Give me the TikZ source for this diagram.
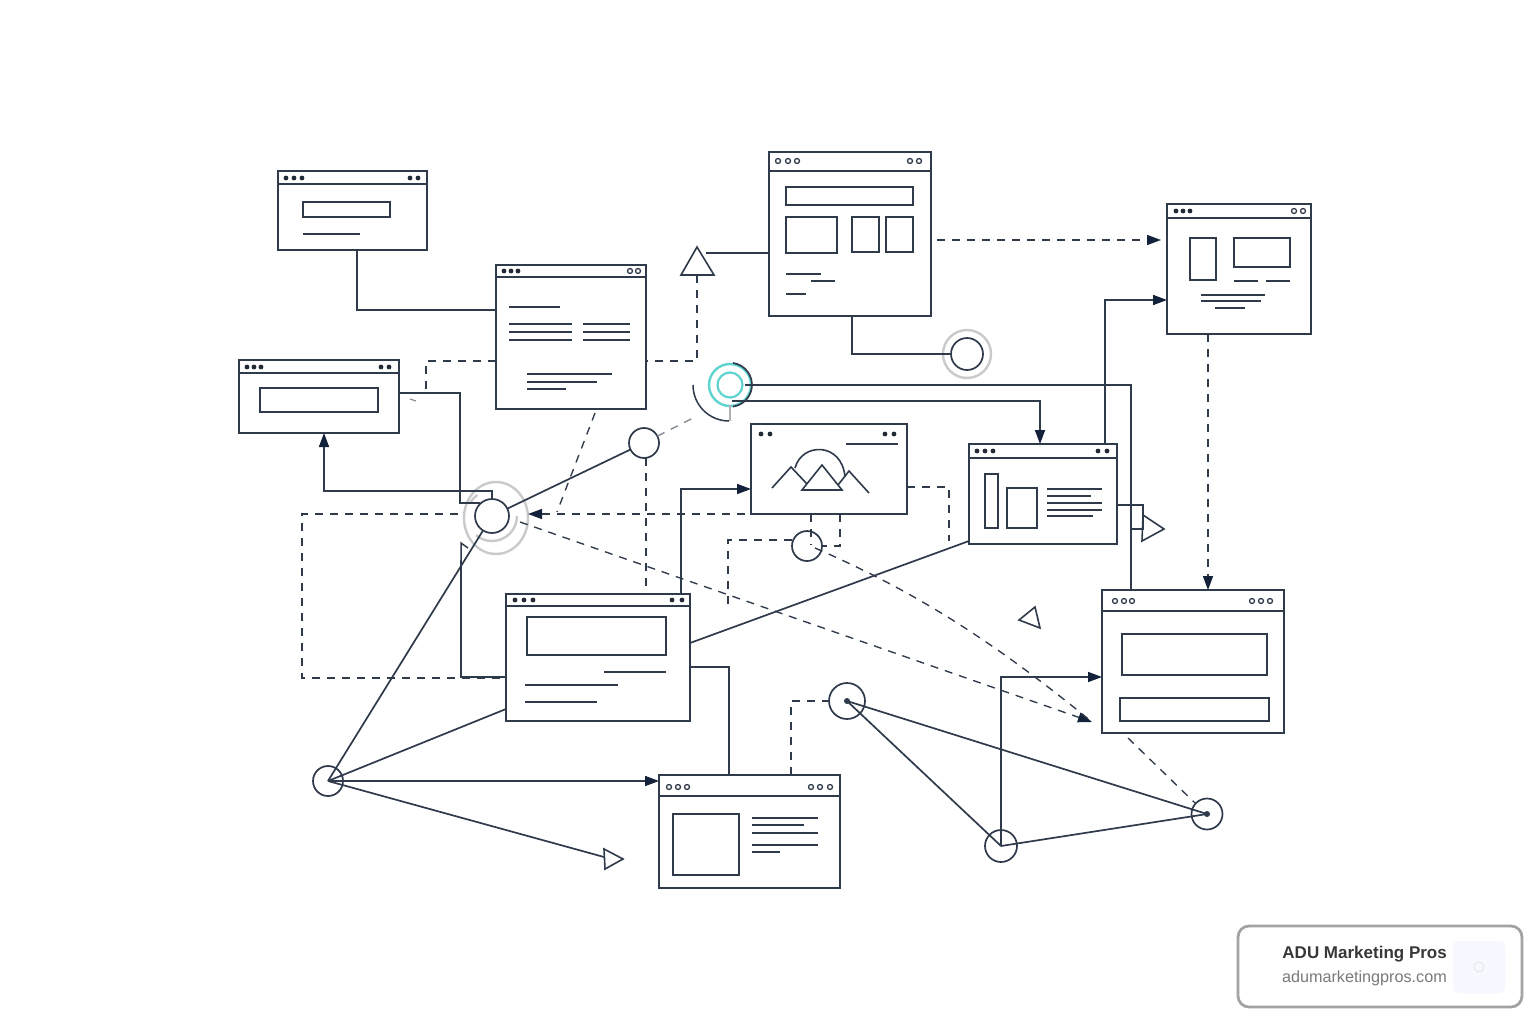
\documentclass[tikz,border=0pt]{standalone}
\usepackage{fontspec}
\setmainfont{Liberation Sans}
\usetikzlibrary{arrows.meta,calc}
\definecolor{ink}{HTML}{2F3A4A}
\definecolor{tip}{HTML}{14213A}
\definecolor{halo}{HTML}{C8CACC}
\definecolor{tealc}{HTML}{5FD3D0}
\definecolor{badgeb}{HTML}{A3A3A3}
\tikzset{
 conn/.style={draw=ink,line width=1.7pt,line join=miter},
 dsh/.style={draw=ink,line width=1.35pt,dash pattern=on 8pt off 7pt},
 arr/.style={-{Stealth[length=14pt,width=10pt,inset=0pt,color=tip]}},
 winbox/.style={draw=ink,line width=1.8pt,fill=white,inner sep=0pt,outer sep=0pt,rectangle},
 circ/.style={draw=ink,line width=1.7pt,fill=white,circle,inner sep=0pt,outer sep=0pt},
 inner/.style={draw=ink,line width=1.6pt},
 txt/.style={draw=ink,line width=1.5pt},
 dotf/.style={fill=ink!70!black},
 doto/.style={draw=ink,line width=1.3pt,fill=white},
 haloc/.style={draw=halo,line width=2.4pt},
 tri/.style={draw=ink,line width=1.6pt,fill=white,line join=miter},
}
\newcommand{\winbox}[5]{% name x1 y1 x2 y2
 \pgfmathsetmacro{\wc}{#4-#2}\pgfmathsetmacro{\hc}{#5-#3}
 \pgfmathsetmacro{\cx}{(#4+#2)/2}\pgfmathsetmacro{\cy}{(#5+#3)/2}
 \node[winbox,minimum width=\wc pt,minimum height=\hc pt] (#1) at (\cx,\cy) {};}
\newcommand{\hdr}[3]{\draw[inner,line width=1.8pt] (#2,#3) -- (#1.east |- 0,#3) (#1.west |- 0,#3) -- (#2,#3);}
\newcommand{\dotsf}[2]{\foreach \q in {#2} \fill[dotf] (\q,#1) circle[radius=2.4pt];}
\newcommand{\dotso}[2]{\foreach \q in {#2} \draw[doto] (\q,#1) circle[radius=2.5pt];}
\newcommand{\rectb}[4]{\draw[inner] (#1,#2) rectangle (#3,#4);}
\newcommand{\tl}[3]{\draw[txt] (#1,#3) -- (#2,#3);}
\begin{document}
\begin{tikzpicture}[x=1pt,y=-1pt]
\useasboundingbox (0,0) rectangle (1536,1024);
\fill[white] (0,0) rectangle (1536,1024);
% halos
\draw[haloc] (967,354) circle[radius=24pt];
\draw[haloc] (496,518) ellipse[x radius=32pt,y radius=36pt];
\draw[haloc] (517,516) arc[start angle=0,end angle=-130,radius=25pt];
\draw[haloc] (470,503) arc[start angle=150,end angle=125,radius=25pt];
% windows
\winbox{wA}{278}{171}{427}{250}
\hdr{wA}{350}{184}\dotsf{178}{286,294,302}\dotsf{178}{410,418}
\rectb{303}{202}{390}{217}\tl{303}{360}{234}
\winbox{wB}{769}{152}{931}{316}
\hdr{wB}{850}{171}\dotso{161}{778,788,797}\dotso{161}{910,919}
\rectb{786}{187}{913}{205}\rectb{786}{217}{837}{253}\rectb{852}{217}{879}{252}\rectb{886}{217}{913}{252}
\tl{786}{821}{274}\tl{811}{835}{281}\tl{786}{806}{294}
\winbox{wC}{1167}{204}{1311}{334}
\hdr{wC}{1240}{218}\dotsf{211}{1176,1183,1190}\dotso{211}{1294,1303}
\rectb{1190}{238}{1216}{280}\rectb{1234}{238}{1290}{267}
\tl{1234}{1258}{281}\tl{1266}{1290}{281}\tl{1201}{1265}{295}\tl{1201}{1261}{301}\tl{1215}{1245}{308}
\winbox{wD}{496}{265}{646}{409}
\hdr{wD}{570}{277}\dotsf{271}{504,511,518}\dotso{271}{630,638}
\tl{509}{560}{307}\tl{509}{572}{324}\tl{583}{630}{324}\tl{509}{572}{332}\tl{583}{630}{332}\tl{509}{572}{340}\tl{583}{630}{340}
\tl{527}{612}{374}\tl{527}{597}{382}\tl{527}{566}{389}
\winbox{wE}{239}{360}{399}{433}
\hdr{wE}{320}{373}\dotsf{367}{247,254,261}\dotsf{367}{381,389}
\rectb{260}{388}{378}{412}
\winbox{wF}{751}{424}{907}{514}
\dotsf{434}{761,770}\dotsf{434}{885,894}\tl{846}{898}{444}
\draw[inner] (795,468) .. controls (802,442) and (842,442) .. (845,477);
\draw[inner] (772,488) -- (791,467) -- (807,484);
\draw[inner] (838,485) -- (849,471) -- (869,493);
\draw[inner,fill=white] (802,490) -- (822,465) -- (842,490) -- cycle;
\winbox{wG}{969}{444}{1117}{544}
\hdr{wG}{1040}{458}\dotsf{451}{977,985,993}\dotsf{451}{1098,1107}
\rectb{985}{474}{998}{528}\rectb{1007}{488}{1037}{528}
\tl{1047}{1102}{489}\tl{1047}{1091}{496}\tl{1047}{1102}{503}\tl{1047}{1102}{510}\tl{1047}{1093}{516}
\winbox{wH}{506}{594}{690}{721}
\hdr{wH}{600}{606}\dotsf{600}{515,524,533}\dotsf{600}{672,682}
\rectb{527}{617}{666}{655}\tl{604}{666}{672}\tl{525}{618}{685}\tl{525}{597}{702}
\winbox{wI}{1102}{590}{1284}{733}
\hdr{wI}{1190}{611}\dotso{601}{1115,1124,1132}\dotso{601}{1252,1261,1270}
\rectb{1122}{634}{1267}{675}\rectb{1120}{698}{1269}{721}
\winbox{wJ}{659}{775}{840}{888}
\hdr{wJ}{750}{796}\dotso{787}{669,678,687}\dotso{787}{811,820,830}
\rectb{673}{814}{739}{875}\tl{752}{818}{818}\tl{752}{804}{825}\tl{752}{818}{833}\tl{752}{818}{845}\tl{752}{780}{852}
% circles
\node[circ,minimum size=32pt] (cA) at (967,354) {};
\node[circ,minimum size=34pt] (cB) at (492,516) {};
\node[circ,minimum size=30pt] (cC) at (644,443) {};
\node[circ,minimum size=30pt] (cD) at (807,546) {};
\node[circ,minimum size=36pt] (cE) at (847,701) {};
\node[circ,minimum size=30pt] (cF) at (328,781) {};
\node[circ,minimum size=32pt] (cG) at (1001,846) {};
\node[circ,minimum size=31pt] (cH) at (1207,814) {};
\node[circle,inner sep=0pt,minimum size=44pt] (cT) at (730,385) {};
% teal target
\draw[tealc,line width=2.2pt] (cT.center) circle[radius=12.5pt];
\draw[tealc,line width=2.4pt] (cT.center) circle[radius=21pt];
\draw[ink,line width=1.7pt] (733,363) arc[start angle=82,end angle=-82,radius=22pt];
\draw[ink,line width=1.5pt] (693,385) arc[start angle=180,end angle=270,radius=36pt];
\draw[black!30,line width=1.5pt] (730,405) -- (730,421);
% triangles
\draw[tri] (697,247) -- (714,275) -- (681,275) -- cycle;
\coordinate (tAb) at (697,275); \coordinate (tAr) at (706,253);
\draw[tri] (604,849) -- (623,859) -- (605,869) -- cycle;
\coordinate (tBl) at (604,857);
\draw[tri] (1143,515) -- (1164,529) -- (1142,541) -- cycle;
\coordinate (tCl) at (1143,529);
\draw[tri] (1035,607) -- (1040,628) -- (1019,620) -- cycle;
\draw[ink,line width=1.5pt,line join=miter] (468,548) -- (461,543) -- (461,570);
\coordinate (tDb) at (461,560);
% named free ends
\coordinate (fa) at (426,393);
\coordinate (fb) at (697,361);
\coordinate (fc) at (557,512);
\coordinate (fd) at (302,514);
\coordinate (fe) at (458,514);
\coordinate (ff) at (790,514);
\coordinate (fg) at (1092,722);
\coordinate (fh) at (1195,803);
\coordinate (fi) at (792,540);
\coordinate (fj) at (520,522);
\coordinate (fk) at (815,548);
\coordinate (fl) at (937,240);
\coordinate (fm) at (1161,240);
% solid connectors
\draw[conn] (wA.south -| 357,0) |- (wD.west |- 0,310);
\draw[conn] (tAr) -- (wB.west |- 0,253);
\draw[conn] (wB.south -| 852,0) |- (cA.west);
\draw[conn] (745,385) -- (1131,385) -- (wI.north -| 1131,0);
\draw[conn,arr] (732,401) -- (1040,401) -- (wG.north -| 1040,0);
\draw[conn,arr] (wG.north -| 1105,0) |- (wC.west |- 0,300);
\draw[conn] (wE.east |- 0,393) -| (460,503) -- (480,503);
\draw[conn,arr] (cB.north) -- (492,491) -| (wE.south -| 324,0);
\draw[conn] (cC) -- (cB);
\draw[conn] (cB) -- (cF.center);
\draw[conn] (cF.center) -- (wH.west |- 0,709);
\draw[conn,arr] (cF.center) -- (wJ.west |- cF.center);
\draw[conn] (cF.center) -- (tBl);
\draw[conn] (tDb) -- (461,677) -- (wH.west |- 0,677);
\draw[conn] (wH.east |- 0,643) -- (wG.west |- 0,541);
\draw[conn] (wH.east |- 0,667) -| (wJ.north -| 729,0);
\draw[conn,arr] (wH.north -| 681,0) |- (wF.west |- 0,489);
\draw[conn] (cE.center) -- (cH.center);
\draw[conn] (cE.center) -- (cG.center);
\draw[conn] (cG.center) -- (cH.center);
\draw[conn,arr] (cG.center) -- (1001,677) -- (wI.west |- 0,677);
\draw[conn] (wG.east |- 0,505) -- (1143,505) -- (tCl) -- (1131,529);
% dashed connectors
\draw[dsh] (tAb) -- (fb) -- (wD.east |- 0,361);
\draw[dsh] (wD.west |- 0,361) -| (fa);
\draw[black!45,line width=1.2pt] (410,399) -- (416,401);
\draw[dsh,arr] (fl) -- (fm);
\draw[dsh,arr] (wC.south -| 1208,0) -- (wI.north -| 1208,0);
\draw[dsh,ink!60] (cC) -- (693,418);
\draw[dsh] (cC.south -| 646,0) -- (wH.north -| 646,0);
\draw[dsh] (wD.south -| 595,0) ++(0,4) -- (fc);
\draw[dsh,arr] (ff) -- (528,514);
\draw[dsh] (fe) -- (fd) -- (302,678) -- (wH.west |- 0,678);
\draw[dsh,arr] (fj) -- (fg);
\draw[dsh] (wF.east |- 0,487) -| (949,541);
\draw[dsh] (wF.south -| 811,0) -- (811,545);
\draw[dsh] (wF.south -| 840,0) |- (cD.east);
\draw[dsh] (fi) -- (728,540) -- (728,605);
\draw[dsh] (fk) .. controls (900,585) and (980,630) .. (fg);
\draw[dsh] (wJ.north -| 791,0) |- (cE.west);
\draw[dsh] (wI.south -| 1128,0) ++(0,5) -- (fh);
\fill[ink] (cE.center) circle[radius=3pt];
\fill[ink] (cH.center) circle[radius=3pt];
% badge
\draw[draw=badgeb,fill=white,line width=2.8pt,rounded corners=11pt] (1238,926) rectangle (1522,1007);
\node[anchor=east,inner sep=0pt,text=black!78,font=\fontsize{17}{20}\selectfont\bfseries] (bA) at (1447,954) {ADU Marketing Pros};
\node[anchor=east,inner sep=0pt,text=black!52,font=\fontsize{16.2}{20}\selectfont] (bB) at (1447,978) {adumarketingpros.com};
\fill[black!3!blue!3!white,rounded corners=5pt] (1453,941) rectangle (1505,993);
\draw[black!10,line width=0.8pt] (1479,967) circle[radius=5pt];
\end{tikzpicture}
\end{document}
